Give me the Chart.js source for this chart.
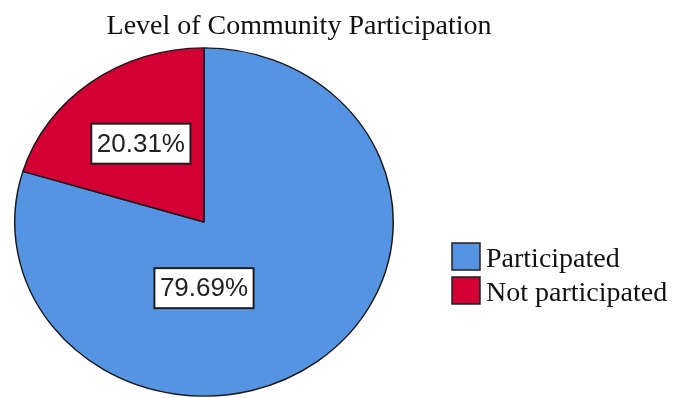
<!DOCTYPE html>
<html>
<head>
<meta charset="utf-8">
<script src="https://cdn.jsdelivr.net/npm/chart.js@4.4.1/dist/chart.umd.min.js"></script>
<style>
  html, body { margin: 0; padding: 0; background: #fff; overflow: hidden; }
  #wrap { width: 677px; height: 440px; }
</style>
</head>
<body>
<div id="wrap"><canvas id="pie" width="677" height="440"></canvas></div>
<script>
const chartTitle = 'Level of Community Participation';
const categories = ['Participated', 'Not participated'];
const percentages = [79.69, 20.31];

// pie is drawn slightly flattened (taller than wide ratio)
const squashRatio = 0.92;

const squash = {
  id: 'squash',
  beforeDatasetsDraw(chart) {
    const arc = chart.getDatasetMeta(0).data[0];
    const ctx = chart.ctx;
    ctx.save();
    ctx.translate(0, arc.y);
    ctx.scale(1, squashRatio);
    ctx.translate(0, -arc.y);
  },
  afterDatasetsDraw(chart) {
    chart.ctx.restore();
  }
};

// white boxes with the percentage inside each slice
const valueBoxes = {
  id: 'valueBoxes',
  afterDraw(chart, args, opts) {
    const ctx = chart.ctx;
    const meta = chart.getDatasetMeta(0);
    ctx.save();
    ctx.font = opts.font;
    ctx.textAlign = 'center';
    ctx.textBaseline = 'middle';
    meta.data.forEach((arc, i) => {
      const spot = opts.spots[i];
      const angle = spot.angle != null ? spot.angle * Math.PI / 180 : (arc.startAngle + arc.endAngle) / 2;
      const r = arc.outerRadius * spot.dist;
      const x = arc.x + Math.cos(angle) * r;
      const y = arc.y + Math.sin(angle) * r * squashRatio;
      const text = percentages[i].toFixed(2) + '%';
      const w = ctx.measureText(text).width + 11;
      const h = 40;
      ctx.fillStyle = '#fff';
      ctx.fillRect(x - w / 2, y - h / 2, w, h);
      ctx.lineWidth = 2;
      ctx.strokeStyle = '#1e1e1e';
      ctx.strokeRect(x - w / 2, y - h / 2, w, h);
      ctx.fillStyle = '#222';
      ctx.fillText(text, x, y + 1);
    });
    ctx.restore();
  }
};

// title and legend sit off-centre, so they are drawn here
const sideText = {
  id: 'sideText',
  afterDraw(chart) {
    const ctx = chart.ctx;
    const ds = chart.data.datasets[0];
    ctx.save();
    ctx.font = '28px "Liberation Serif", "Times New Roman", serif';
    ctx.fillStyle = '#111';
    ctx.textAlign = 'center';
    ctx.textBaseline = 'alphabetic';
    ctx.fillText(chartTitle, 299, 34);

    ctx.textAlign = 'left';
    chart.data.labels.forEach((label, i) => {
      const top = 243 + i * 34;
      ctx.fillStyle = ds.backgroundColor[i];
      ctx.fillRect(452, top, 28, 27);
      ctx.lineWidth = 1.5;
      ctx.strokeStyle = '#222';
      ctx.strokeRect(452, top, 28, 27);
      ctx.fillStyle = '#111';
      ctx.fillText(label, 486, top + 24);
    });
    ctx.restore();
  }
};

new Chart(document.getElementById('pie'), {
  type: 'pie',
  data: {
    labels: categories,
    datasets: [{
      data: percentages,
      backgroundColor: ['#5593e3', '#d30034'],
      borderColor: '#1a1a1a',
      borderWidth: 1.5
    }]
  },
  options: {
    responsive: false,
    animation: false,
    devicePixelRatio: 1,
    layout: {
      padding: { left: 14, right: 283, top: 32, bottom: 28 }
    },
    plugins: {
      legend: { display: false },
      title: { display: false },
      tooltip: { enabled: false },
      valueBoxes: {
        font: '26px "Liberation Sans", Arial, sans-serif',
        spots: [{ angle: 90, dist: 0.38 }, { angle: null, dist: 0.56 }]
      }
    }
  },
  plugins: [squash, valueBoxes, sideText]
});
</script>
</body>
</html>
